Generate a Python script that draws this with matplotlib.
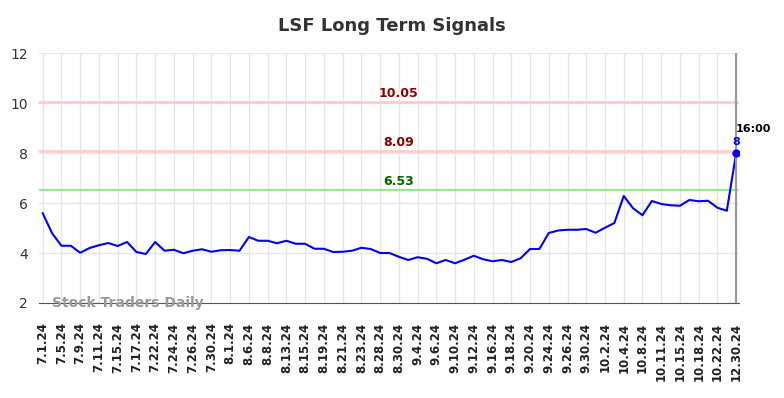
import numpy as np
import matplotlib.pyplot as plt

# tick labels (one every two points)
tick_labels = ["7.1.24", "7.5.24", "7.9.24", "7.11.24", "7.15.24", "7.17.24",
               "7.22.24", "7.24.24", "7.26.24", "7.30.24", "8.1.24", "8.6.24",
               "8.8.24", "8.13.24", "8.15.24", "8.19.24", "8.21.24", "8.23.24",
               "8.28.24", "8.30.24", "9.4.24", "9.6.24", "9.10.24", "9.12.24",
               "9.16.24", "9.18.24", "9.20.24", "9.24.24", "9.26.24", "9.30.24",
               "10.2.24", "10.4.24", "10.8.24", "10.11.24", "10.15.24", "10.18.24",
               "10.22.24", "12.30.24"]

# price series
prices = [5.59, 4.79, 4.29, 4.29, 4.01, 4.20, 4.31, 4.40, 4.28, 4.44,
          4.04, 3.96, 4.44, 4.09, 4.13, 3.99, 4.09, 4.15, 4.05, 4.11,
          4.12, 4.09, 4.64, 4.49, 4.49, 4.39, 4.49, 4.37, 4.37, 4.17,
          4.17, 4.04, 4.05, 4.09, 4.21, 4.16, 4.00, 4.00, 3.85, 3.72,
          3.83, 3.77, 3.59, 3.72, 3.59, 3.73, 3.89, 3.75, 3.67, 3.72,
          3.64, 3.79, 4.16, 4.16, 4.80, 4.90, 4.93, 4.93, 4.96, 4.81,
          5.01, 5.20, 6.28, 5.79, 5.51, 6.08, 5.96, 5.91, 5.89, 6.12,
          6.07, 6.09, 5.81, 5.69, 8.0]

# signal levels
upper_levels = [10.05, 8.09]
lower_level = 6.53

last_time = "16:00"
last_label = "8"


def main():
    x = np.arange(len(prices))
    fig = plt.figure(figsize=(7.84, 3.98), dpi=100)
    ax = fig.add_axes([0.0497, 0.2387, 0.8929, 0.6281])

    ax.set_xlim(-0.4, len(prices) - 1 + 0.3)
    ax.set_ylim(2, 12)

    ax.grid(True, color="#e6e6e6", linewidth=1)
    ax.set_axisbelow(True)

    # signal lines
    for lv in upper_levels:
        ax.axhline(lv, color="#ffcccc", linewidth=2)
        ax.text(38, lv + 0.06, f"{lv:.2f}", color="#8b0000", fontsize=9,
                fontweight="bold", ha="center", va="bottom")
    ax.axhline(lower_level, color="#90ee90", linewidth=1.5)
    ax.text(38, lower_level + 0.06, f"{lower_level:.2f}", color="#006400",
            fontsize=9, fontweight="bold", ha="center", va="bottom")

    # price line
    ax.plot(x, prices, color="#0000ff", linewidth=1.5)
    ax.axvline(x[-1], color="#999999", linewidth=1.5)
    ax.plot(x[-1], prices[-1], "o", color="#0000ff", markersize=5)
    ax.text(x[-1], prices[-1] + 0.25, last_label, color="#0000ff", fontsize=8,
            fontweight="bold", ha="center", va="bottom")
    ax.text(x[-1], prices[-1] + 0.75, last_time, color="black", fontsize=8,
            fontweight="bold", ha="left", va="bottom")

    ax.text(1.0, 2.0, "Stock Traders Daily", color="#999999", fontsize=10,
            fontweight="bold", ha="left", va="center")

    ax.set_xticks(x[::2])
    ax.set_xticklabels(tick_labels, rotation=90, fontsize=8.5, fontweight="bold")
    ax.set_yticks([2, 4, 6, 8, 10, 12])
    ax.tick_params(axis="y", labelsize=10, length=0, colors="#333333", pad=8)
    ax.tick_params(axis="x", length=0, colors="#222222", pad=14)

    for side in ["left", "right", "top"]:
        ax.spines[side].set_visible(False)
    ax.spines["bottom"].set_color("#555555")

    fig.text(0.5, 0.935, "LSF Long Term Signals", color="#333333", fontsize=13,
             fontweight="bold", ha="center", va="center")

    fig.savefig("out.png", dpi=100)
    plt.close(fig)


if __name__ == "__main__":
    main()
